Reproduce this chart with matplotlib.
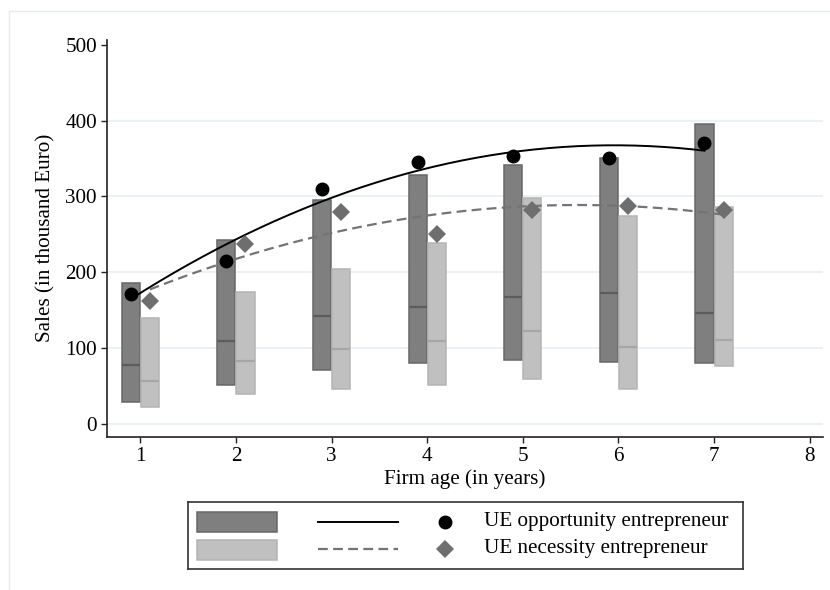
import numpy as np
import matplotlib
matplotlib.use("Agg")
import matplotlib.pyplot as plt
from matplotlib.patches import Rectangle

plt.rcParams['font.family'] = ['Liberation Serif', 'DejaVu Serif']
plt.rcParams['font.size'] = 15.2

# Firm age groups
age = np.array([1, 2, 3, 4, 5, 6, 7])

# Opportunity entrepreneurs: box range, median and mean sales
opp_top = [186, 242, 296, 328, 342, 351, 395]
opp_median = [78, 109, 143, 154, 168, 173, 147]
opp_bottom = [29, 51, 71, 80, 85, 82, 80]
opp_mean = [171, 215, 310, 345, 354, 351, 370]

# Necessity entrepreneurs: box range, median and mean sales
nec_top = [140, 174, 205, 239, 298, 274, 286]
nec_median = [57, 83, 99, 110, 122, 102, 111]
nec_bottom = [22, 39, 46, 51, 59, 46, 76]
nec_mean = [162, 238, 280, 250, 282, 287, 282]

yticks = [0, 100, 200, 300, 400, 500]
xticks = [1, 2, 3, 4, 5, 6, 7, 8]

dark_fill, dark_edge, dark_med = '#7f7f7f', '#676767', '#5c5c5c'
light_fill, light_edge, light_med = '#c0c0c0', '#b4b4b4', '#a6a6a6'
diamond_col = '#6e6e6e'
dash_col = '#747474'
grid_col = '#e9eff2'

fig = plt.figure(figsize=(8.3, 5.9), dpi=100)
ax = fig.add_axes([0.1293, 0.2598, 0.9916 - 0.1293, 0.933 - 0.2598])

# faint outer frame of the graph region
fig.add_artist(Rectangle((8.5 / 830, -0.05), 1.2, (590 - 11) / 590 + 0.05,
                         transform=fig.transFigure, fill=False,
                         edgecolor='#e4ecee', linewidth=1.0))

# horizontal grid
for v in yticks[:-1]:
    ax.axhline(v, color=grid_col, lw=1.2, zorder=0)

w = 0.19
x_opp = age - 0.1
x_nec = age + 0.1

def boxes(xs, top, bottom, med, fill, edge, mcol):
    top = np.array(top)
    bottom = np.array(bottom)
    ax.bar(xs, top - bottom, bottom=bottom, width=w, color=fill,
           edgecolor=edge, linewidth=1.1, zorder=2)
    ax.hlines(med, xs - w / 2, xs + w / 2, colors=mcol, lw=1.6, zorder=3)

boxes(x_opp, opp_top, opp_bottom, opp_median, dark_fill, dark_edge, dark_med)
boxes(x_nec, nec_top, nec_bottom, nec_median, light_fill, light_edge, light_med)

# quadratic fits of the means
xs = np.linspace(x_opp[0], x_opp[-1], 200)
ax.plot(xs, np.polyval(np.polyfit(x_opp, opp_mean, 2), xs),
        color='black', lw=1.4, zorder=4)
xs = np.linspace(x_nec[0], x_nec[-1], 200)
ax.plot(xs, np.polyval(np.polyfit(x_nec, nec_mean, 2), xs),
        color=dash_col, lw=1.6, dashes=(4.4, 2.4), zorder=4)

ax.plot(x_opp, opp_mean, 'o', color='black', ms=9, zorder=5)
ax.plot(x_nec, nec_mean, 'D', color=diamond_col, ms=9, mew=0, zorder=5)

ax.set_xlim(0.655, 8.14)
ax.set_ylim(-16.8, 507)
ax.set_xticks(xticks)
ax.set_yticks(yticks)
ax.tick_params(direction='out', length=4.5, width=1.0, colors='#222222',
               labelcolor='black', pad=3)
for s in ['top', 'right']:
    ax.spines[s].set_visible(False)
for s in ['left', 'bottom']:
    ax.spines[s].set_color('#222222')
    ax.spines[s].set_linewidth(1.2)

ax.set_xlabel('Firm age (in years)', labelpad=2)
ax.set_ylabel('Sales (in thousand Euro)', labelpad=7)

# legend panel
lax = fig.add_axes([188.3 / 830, (590 - 569) / 590, 554.4 / 830, 66.7 / 590])
lax.set_xlim(0, 554.4)
lax.set_ylim(0, 66.7)
lax.set_xticks([])
lax.set_yticks([])
for s in lax.spines.values():
    s.set_color('#333333')
    s.set_linewidth(1.2)
lax.add_patch(Rectangle((9, 37.3), 79.4, 20, facecolor=dark_fill,
                        edgecolor=dark_edge, lw=1.1))
lax.add_patch(Rectangle((9, 9), 79.4, 20, facecolor=light_fill,
                        edgecolor=light_edge, lw=1.1))
lax.plot([129.7, 209.7], [47.3, 47.3], color='black', lw=1.4)
lax.plot([129.7, 209.7], [20, 20], color=dash_col, lw=1.6, dashes=(4.4, 2.4))
lax.plot([256.7], [47.3], 'o', color='black', ms=9)
lax.plot([256.7], [20], 'D', color=diamond_col, ms=9, mew=0)
lax.text(295.7, 47.3, 'UE opportunity entrepreneur', va='center', ha='left')
lax.text(295.7, 20, 'UE necessity entrepreneur', va='center', ha='left')

fig.savefig('out.png', dpi=100)
